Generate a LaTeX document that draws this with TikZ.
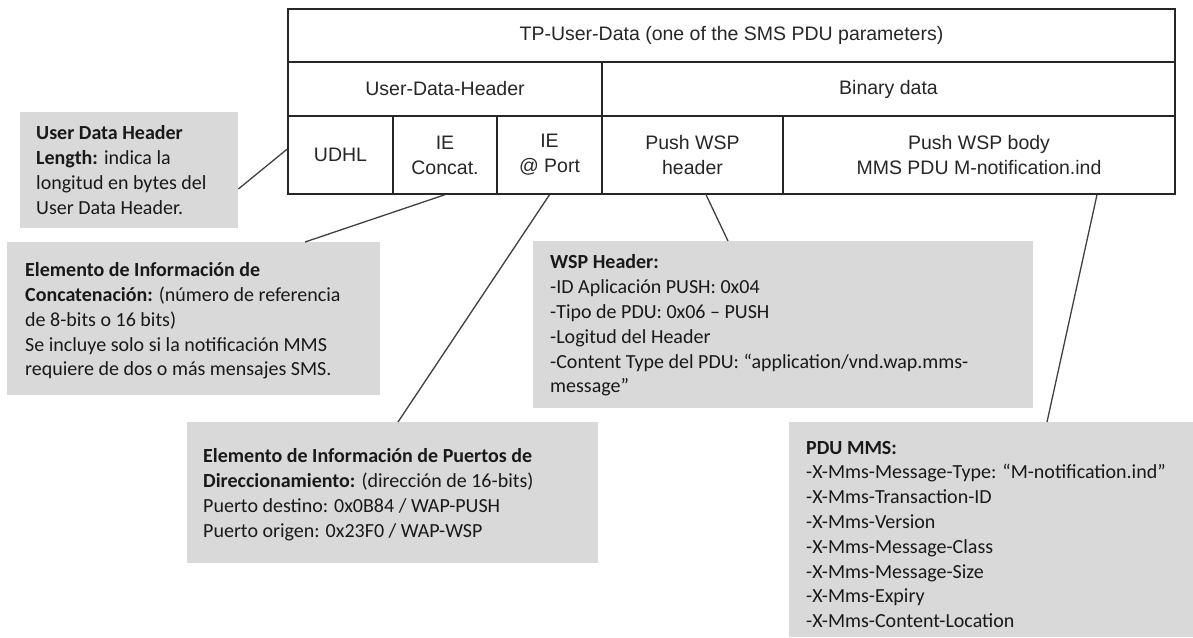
\documentclass[tikz,border=0pt]{standalone}
\usepackage{fontspec}
\setmainfont{Liberation Sans}
\newfontfamily\notefont{Carlito}
\usetikzlibrary{calc}
\definecolor{boxgray}{HTML}{D9D9D9}
\definecolor{inkgray}{HTML}{262626}
\definecolor{linkgray}{HTML}{404040}

\begin{document}
\begin{tikzpicture}[x=1pt,y=-1pt,
  cell/.style={draw=inkgray, line width=1.4pt, inner sep=0, align=center,
    font=\fontsize{19.5}{25}\selectfont, text=inkgray},
  note/.style={fill=boxgray, inner sep=0, anchor=north west},
  notetext/.style={anchor=west, align=left, inner sep=0,
    font=\notefont\fontsize{20}{24.8}\selectfont, text=black!90},
  link/.style={draw=linkgray, line width=1.3pt}]
\useasboundingbox (0,0) rectangle (1193,637);

% grey annotation boxes
\node[note, minimum width=218, minimum height=116] (udhbox) at (20,112) {};
\node[note, minimum width=373, minimum height=153] (catbox) at (7,242) {};
\node[note, minimum width=500, minimum height=167] (wspbox) at (533,241) {};
\node[note, minimum width=411, minimum height=141] (portbox) at (187,422) {};
\node[note, minimum width=404, minimum height=215] (mmsbox) at (789,422) {};

\node[notetext] (udhtext) at (36,170)
  {\textbf{User Data Header}\\\textbf{Length:} indica la\\longitud en bytes del\\User Data Header.};
\node[notetext] (cattext) at (25,321)
  {\textbf{Elemento de Información de}\\\textbf{Concatenación:} (número de referencia\\de 8-bits o 16 bits)\\Se incluye solo si la notificación MMS\\requiere de dos o más mensajes SMS.};
\node[notetext] (wsptext) at (550,325.5)
  {\textbf{WSP Header:}\\-ID Aplicación PUSH: 0x04\\-Tipo de PDU: 0x06 – PUSH\\-Logitud del Header\\-Content Type del PDU: “application/vnd.wap.mms-\\message”};
\node[notetext] (porttext) at (203,494.5)
  {\textbf{Elemento de Información de Puertos de}\\\textbf{Direccionamiento:} (dirección de 16-bits)\\Puerto destino: 0x0B84 / WAP-PUSH\\Puerto origen: 0x23F0 / WAP-WSP};
\node[notetext] (mmstext) at (806,534.5)
  {\textbf{PDU MMS:}\\-X-Mms-Message-Type: “M-notification.ind”\\-X-Mms-Transaction-ID\\-X-Mms-Version\\-X-Mms-Message-Class\\-X-Mms-Message-Size\\-X-Mms-Expiry\\-X-Mms-Content-Location};

% TP-User-Data layout table
\node[cell, minimum width=887, minimum height=53] (title) at (731.5,35.5)
  {TP-User-Data (one of the SMS PDU parameters)};
\node[cell, minimum width=314, minimum height=54] (udh) at (445,89) {User-Data-Header};
\node[cell, minimum width=573, minimum height=54] (bin) at (888.5,89) {Binary data};
\node[cell, minimum width=105, minimum height=78] (udhl) at (340.5,155) {UDHL};
\node[cell, minimum width=104, minimum height=78] (iec) at (445,155) {IE\\Concat.};
\node[cell, minimum width=105, minimum height=78] (iep) at (549.5,155) {IE\\@ Port};
\node[cell, minimum width=181, minimum height=78] (pwh) at (692.5,155) {Push WSP\\header};
\node[cell, minimum width=392, minimum height=78] (pwb) at (979,155) {Push WSP body\\MMS PDU M-notification.ind};

% connectors from fields to their descriptions
\draw[link] ($(udhl.west)+(0,-6)$) -- ($(udhbox.north east)+(0,77)$);
\draw[link] (iec.south) -- ($(catbox.north west)+(298,0)$);
\draw[link] (iep.south) -- ($(portbox.north west)+(211,0)$);
\draw[link] ($(pwh.south)+(13.5,0)$) -- ($(wspbox.north west)+(195,0)$);
\draw[link] ($(pwb.south)+(118,0)$) -- ($(mmsbox.north west)+(258,0)$);
\end{tikzpicture}
\end{document}
